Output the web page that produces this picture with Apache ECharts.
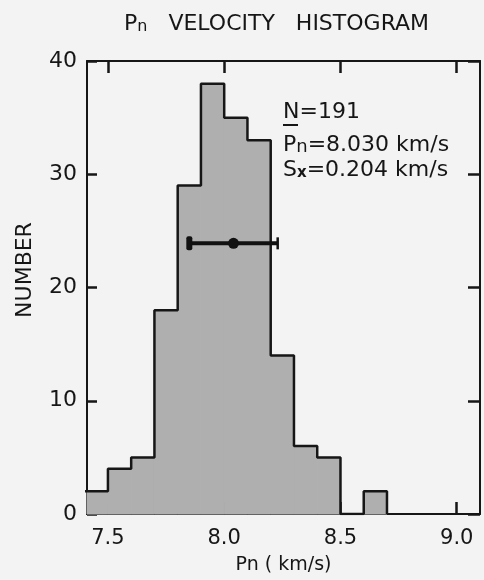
<!DOCTYPE html>
<html>
<head>
<meta charset="utf-8">
<script src="https://cdn.jsdelivr.net/npm/echarts@6/dist/echarts.min.js"></script>
<style>
html,body{margin:0;padding:0;background:#f3f3f3;}
#chart{width:484px;height:580px;}
</style>
</head>
<body>
<div id="chart"></div>
<script>
// Histogram bins (0.1 km/s wide)
const binStart = [7.4, 7.5, 7.6, 7.7, 7.8, 7.9, 8.0, 8.1, 8.2, 8.3, 8.4, 8.5, 8.6];
const binEnd   = [7.5, 7.6, 7.7, 7.8, 7.9, 8.0, 8.1, 8.2, 8.3, 8.4, 8.5, 8.6, 8.7];
const counts   = [2, 4, 5, 18, 29, 38, 35, 33, 14, 6, 5, 0, 2];
// Mean with error bar
const errCenter = [8.04];
const errLow = [7.85];
const errHigh = [8.23];
const errY = [23.9];
// Ticks
const xTicks = [7.5, 8.0, 8.5, 9.0];
const yTicks = [0, 10, 20, 30, 40];

const INK = '#161616';
const FONT = 'DejaVu Sans';

const chart = echarts.init(document.getElementById('chart'), null, {renderer: 'canvas'});

const histData = binStart.map((s, i) => [s, binEnd[i], counts[i]]);
const outline = binStart.map((s, i) => [s, counts[i]]);
outline.push([binEnd[binEnd.length - 1], 0]);

const errData = errCenter.map((c, i) => [c, errLow[i], errHigh[i], errY[i]]);

function xAxisCfg(pos, showLabel) {
  return {
    type: 'value', position: pos, min: 7.41, max: 9.1,
    axisLine: {show: true, onZero: false, lineStyle: {color: INK, width: 2}},
    axisTick: {show: true, inside: true, length: 12, customValues: xTicks, lineStyle: {color: INK, width: 2.5}},
    axisLabel: {show: showLabel, customValues: xTicks, formatter: v => v.toFixed(1),
      fontFamily: FONT, fontSize: 21, color: INK, margin: 14},
    splitLine: {show: false},
    name: showLabel ? 'Pn ( km/s)' : '',
    nameLocation: 'middle', nameGap: 42,
    nameTextStyle: {fontFamily: FONT, fontSize: 19, color: INK}
  };
}
function yAxisCfg(pos, showLabel) {
  return {
    type: 'value', position: pos, min: 0, max: 40, interval: 10,
    axisLine: {show: true, onZero: false, lineStyle: {color: INK, width: 2}},
    axisTick: {show: true, inside: true, length: pos === 'left' ? 10 : 12, lineStyle: {color: INK, width: 2.5}},
    axisLabel: {show: showLabel, fontFamily: FONT, fontSize: 22, color: INK, margin: 10},
    splitLine: {show: false}
  };
}

const option = {
  backgroundColor: '#f3f3f3',
  animation: false,
  grid: {left: 87, right: 4, top: 61, bottom: 64, containLabel: false},
  xAxis: [xAxisCfg('bottom', true), xAxisCfg('top', false)],
  yAxis: [yAxisCfg('left', true), yAxisCfg('right', false)],
  series: [
    {
      type: 'custom', xAxisIndex: 0, yAxisIndex: 0, z: 1,
      data: histData,
      encode: {x: [0, 1], y: 2},
      renderItem: function (params, api) {
        const x0 = api.value(0), x1 = api.value(1), c = api.value(2);
        if (!c) return;
        const p0 = api.coord([x0, c]);
        const p1 = api.coord([x1, 0]);
        const cs = params.coordSys;
        const r = echarts.graphic.clipRectByRect(
          {x: p0[0], y: p0[1], width: p1[0] - p0[0], height: p1[1] - p0[1]},
          {x: cs.x, y: cs.y, width: cs.width, height: cs.height});
        if (!r) return;
        return {type: 'rect', shape: r, style: {fill: '#afafaf', stroke: '#afafaf', lineWidth: 1}};
      }
    },
    {
      type: 'line', xAxisIndex: 0, yAxisIndex: 0, z: 3,
      data: outline, step: 'end', showSymbol: false, symbol: 'none',
      lineStyle: {color: INK, width: 2.5}, clip: true
    },
    {
      type: 'custom', xAxisIndex: 0, yAxisIndex: 0, z: 5,
      data: errData,
      encode: {x: [0, 1, 2], y: 3},
      renderItem: function (params, api) {
        const c = api.coord([api.value(0), api.value(3)]);
        const l = api.coord([api.value(1), api.value(3)]);
        const h = api.coord([api.value(2), api.value(3)]);
        return {
          type: 'group',
          children: [
            {type: 'line', shape: {x1: l[0], y1: l[1], x2: h[0], y2: h[1]}, style: {stroke: '#111', lineWidth: 4}},
            {type: 'rect', shape: {x: l[0] - 3, y: l[1] - 7, width: 6, height: 14, r: 2}, style: {fill: '#111'}},
            {type: 'line', shape: {x1: h[0], y1: h[1] - 6, x2: h[0], y2: h[1] + 6}, style: {stroke: '#111', lineWidth: 2.5}},
            {type: 'circle', shape: {cx: c[0], cy: c[1], r: 5.5}, style: {fill: '#111'}}
          ]
        };
      }
    }
  ],
  graphic: [
    {
      type: 'text', left: 124, top: 13, z: 10,
      style: {
        text: '{a|P}{b|n}{a|   VELOCITY   HISTOGRAM}',
        rich: {
          a: {fontFamily: FONT, fontSize: 22, fill: INK, verticalAlign: 'bottom', lineHeight: 26},
          b: {fontFamily: FONT, fontSize: 16, fill: INK, verticalAlign: 'bottom', lineHeight: 24}
        }
      }
    },
    {
      type: 'text', x: 25, y: 270, rotation: Math.PI / 2, z: 10,
      style: {text: 'NUMBER', fontFamily: FONT, fontSize: 22, fill: INK, align: 'center', verticalAlign: 'middle'}
    },
    {
      type: 'text', x: 283, y: 112, z: 10,
      style: {text: 'N=191', fontFamily: FONT, fontSize: 22, fill: INK, verticalAlign: 'middle'}
    },
    {
      type: 'line', z: 10, shape: {x1: 283, y1: 125, x2: 298, y2: 125}, style: {stroke: INK, lineWidth: 2}
    },
    {
      type: 'text', x: 283, y: 143, z: 10,
      style: {
        text: '{a|P}{b|n}{a|=8.030 km/s}',
        verticalAlign: 'middle',
        rich: {
          a: {fontFamily: FONT, fontSize: 22, fill: INK, verticalAlign: 'bottom', lineHeight: 26},
          b: {fontFamily: FONT, fontSize: 18, fill: INK, verticalAlign: 'bottom', lineHeight: 24}
        }
      }
    },
    {
      type: 'text', x: 283, y: 168, z: 10,
      style: {
        text: '{a|S}{b|x}{a|=0.204 km/s}',
        verticalAlign: 'middle',
        rich: {
          a: {fontFamily: FONT, fontSize: 22, fill: INK, verticalAlign: 'bottom', lineHeight: 26},
          b: {fontFamily: FONT, fontSize: 15, fontWeight: 'bold', fill: INK, verticalAlign: 'bottom', lineHeight: 23}
        }
      }
    }
  ]
};
chart.setOption(option);
</script>
</body>
</html>
